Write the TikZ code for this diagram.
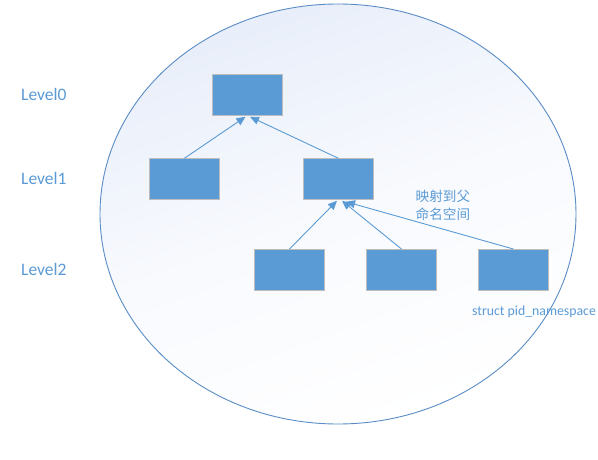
\documentclass[tikz,border=0pt]{standalone}
\usepackage{fontspec}
\setmainfont{Carlito}
\newfontfamily\cjk{Noto Sans CJK SC}
\usetikzlibrary{arrows.meta}
\definecolor{boxblue}{HTML}{5B9BD5}
\definecolor{boxedge}{HTML}{BDBDBD}
\definecolor{linkblue}{HTML}{5B9BD5}
\definecolor{ovaledge}{HTML}{5A8DC6}
\definecolor{ovalfill}{HTML}{E8EEFA}
\begin{document}
\begin{tikzpicture}[x=1pt,y=-1pt,
  nsbox/.style={draw=boxedge, fill=boxblue, line width=0.9pt, minimum width=70pt, minimum height=41pt, inner sep=0pt},
  link/.style={draw=linkblue, line width=0.9pt, -{Triangle[length=9pt,width=8pt]}},
  lvl/.style={text=linkblue, font=\fontsize{17.5}{20}\selectfont, anchor=west, inner sep=0pt},
  note/.style={text=linkblue, inner sep=0pt}]
\useasboundingbox (0,0) rectangle (598,460);
\fill[white] (0,0) rectangle (598,460);
\begin{scope}[y=1pt]
\shade[top color=ovalfill, bottom color=white, middle color=ovalfill!30!white, shading angle=20] (338,-214) ellipse [x radius=238, y radius=210];
\end{scope}
\draw[ovaledge, line width=0.9pt] (338,214) ellipse [x radius=238, y radius=210];

\node[lvl] (lv0) at (21,94.5) {Level0};
\node[lvl] (lv1) at (21,178.5) {Level1};
\node[lvl] (lv2) at (21,269.3) {Level2};

\node[nsbox] (top) at (247.5,95.3) {};
\node[nsbox] (la) at (184.3,179.3) {};
\node[nsbox] (lb) at (338.5,179.3) {};
\node[nsbox] (ca) at (289.5,270) {};
\node[nsbox] (cb) at (401.5,270) {};
\node[nsbox] (cc) at (513.5,270) {};

\draw[link] (la.north) -- ([xshift=-2pt,yshift=-0.5pt]top.south);
\draw[link] (lb.north) -- ([xshift=2.5pt,yshift=-0.5pt]top.south);
\draw[link] (cc.north) -- ([xshift=7.5pt,yshift=-1.5pt]lb.south);
\draw[link] (cb.north) -- ([xshift=3.5pt,yshift=-0.5pt]lb.south);
\draw[link] (ca.north) -- ([xshift=-1.5pt,yshift=-0.5pt]lb.south);

\node[note, font=\cjk\fontsize{13.6}{17.6}\selectfont, align=left, anchor=west] (map) at (415.5,205.5) {映射到父\\命名空间};
\node[note, font=\fontsize{13.8}{16}\selectfont, anchor=west] (lbl) at (472,312) {struct pid\_namespace};
\end{tikzpicture}
\end{document}
